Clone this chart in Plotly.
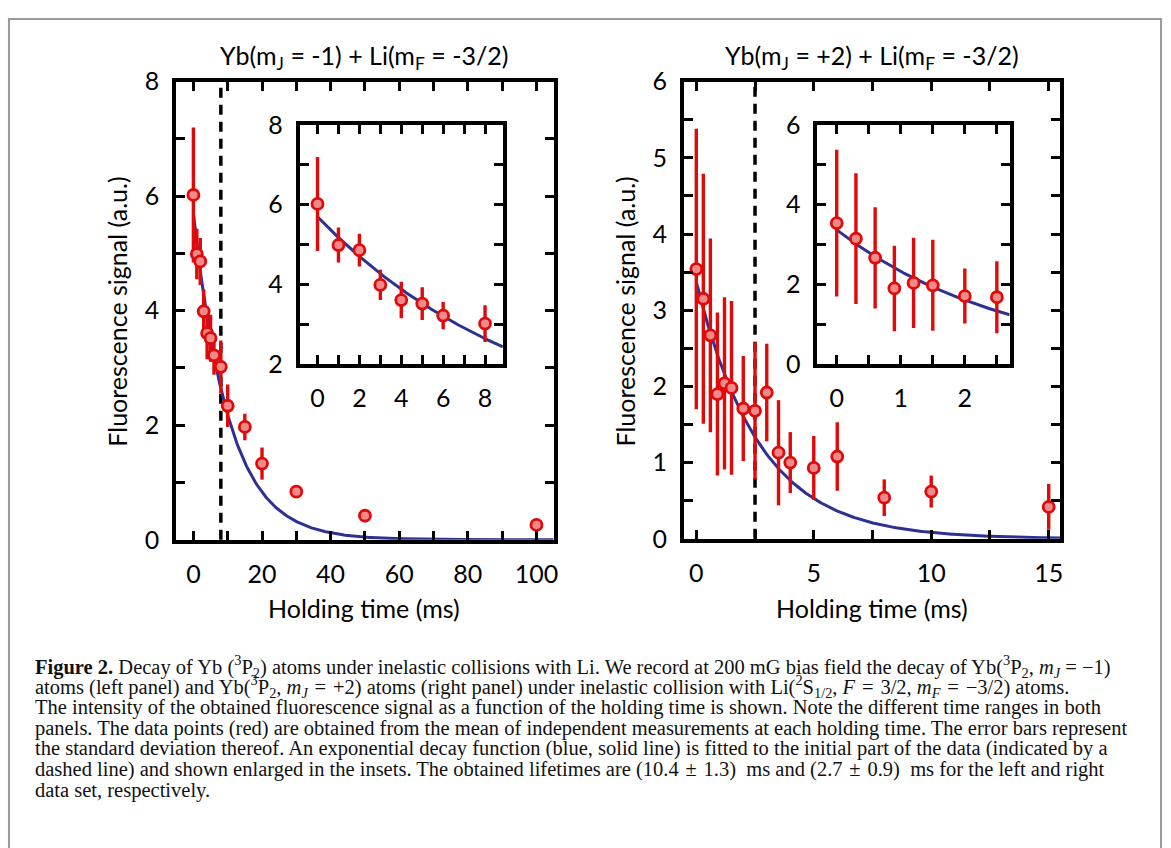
import numpy as np
import plotly.graph_objects as go

# left panel: Yb(mJ = -1) + Li(mF = -3/2)
left_t = [0, 1, 2, 3, 4, 5, 6, 8, 10, 15, 20, 30, 50, 100]
left_signal = [6.02, 4.99, 4.86, 3.99, 3.61, 3.52, 3.22, 3.02, 2.34, 1.97, 1.33, 0.84, 0.42, 0.26]
left_err = [1.18, 0.44, 0.41, 0.38, 0.46, 0.41, 0.34, 0.46, 0.37, 0.23, 0.28, 0.05, 0.04, 0.08]
left_fit_amp = 5.70
left_tau = 10.4   # ms
left_cutoff = 8

# right panel: Yb(mJ = +2) + Li(mF = -3/2)
right_t = [0, 0.3, 0.6, 0.9, 1.2, 1.5, 2.0, 2.5, 3.0, 3.5, 4.0, 5.0, 6.0, 8.0, 10.0, 15.0]
right_signal = [3.54, 3.15, 2.67, 1.90, 2.04, 1.98, 1.71, 1.68, 1.92, 1.13, 1.00, 0.93, 1.08, 0.54, 0.62, 0.42]
right_err = [1.84, 1.64, 1.27, 1.07, 1.13, 1.14, 0.69, 0.90, 0.64, 0.69, 0.40, 0.42, 0.45, 0.24, 0.21, 0.30]
right_fit_amp = 3.37
right_tau = 2.7   # ms
right_cutoff = 2.5

EQ = "\u2004=\u2004"   # math-style spacing
PM = "\u2004±\u2004"
caption_lines = [
    "<b>Figure 2.</b> Decay of Yb (<sup>3</sup>P<sub>2</sub>) atoms under inelastic collisions with Li. We record at 200 mG bias field the decay of Yb(<sup>3</sup>P<sub>2</sub>, <i>m<sub>J</sub></i> = −1)",
    f"atoms (left panel) and Yb(<sup>3</sup>P<sub>2</sub>, <i>m<sub>J</sub></i>{EQ}+2) atoms (right panel) under inelastic collision with Li(<sup>2</sup>S<sub>1/2</sub>, <i>F</i>{EQ}3/2, <i>m<sub>F</sub></i>{EQ}−3/2) atoms.",
    "The intensity of the obtained fluorescence signal as a function of the holding time is shown. Note the different time ranges in both",
    "panels. The data points (red) are obtained from the mean of independent measurements at each holding time. The error bars represent",
    "the standard deviation thereof. An exponential decay function (blue, solid line) is fitted to the initial part of the data (indicated by a",
    f"dashed line) and shown enlarged in the insets. The obtained lifetimes are (10.4{PM}1.3)  ms and (2.7{PM}0.9)  ms for the left and right",
    "data set, respectively.",
]

W, H = 1171, 848
SANS = "Lato, 'Open Sans', sans-serif"
SERIF = "'Liberation Serif', 'DejaVu Serif', serif"
RED = "#e00a0a"
PINK = "#f08a8a"
BLUE = "#2e3192"


def px_x(a, b):
    return [a / W, b / W]


def px_y(top, bottom):
    return [1 - bottom / H, 1 - top / H]


def axis(domain, rng, dtick, minor, standoff=10):
    return dict(
        domain=domain, range=rng, dtick=dtick, tick0=0,
        showline=True, linecolor="black", linewidth=4, mirror="ticks",
        ticks="inside", ticklen=9, tickwidth=3, tickcolor="black",
        minor=dict(dtick=minor, ticks="inside", ticklen=9, tickwidth=3, tickcolor="black"),
        showgrid=False, zeroline=False,
        tickfont=dict(family=SANS, size=25, color="black"),
        ticklabelstandoff=standoff,
    )


def add_panel(fig, t, sig, err, amp, tau, t_max, xa, ya):
    tt = np.linspace(0, t_max, 300)
    fig.add_trace(go.Scatter(
        x=tt, y=amp * np.exp(-tt / tau), mode="lines",
        line=dict(color=BLUE, width=3), xaxis=xa, yaxis=ya, showlegend=False,
        hoverinfo="skip",
    ))
    fig.add_trace(go.Scatter(
        x=t, y=sig, mode="markers", xaxis=xa, yaxis=ya, showlegend=False,
        marker=dict(size=11, color=PINK, line=dict(color=RED, width=2.8)),
        error_y=dict(type="data", array=err, color=RED, thickness=3.4, width=0),
    ))


fig = go.Figure()

# main panels
add_panel(fig, left_t, left_signal, left_err, left_fit_amp, left_tau, 105, "x", "y")
add_panel(fig, right_t, right_signal, right_err, right_fit_amp, right_tau, 15.5, "x3", "y3")

# insets: only the fitted part of the data
li = [i for i, v in enumerate(left_t) if v <= left_cutoff]
ri = [i for i, v in enumerate(right_t) if v <= right_cutoff]
add_panel(fig, [left_t[i] for i in li], [left_signal[i] for i in li], [left_err[i] for i in li],
          left_fit_amp, left_tau, 8.85, "x2", "y2")
add_panel(fig, [right_t[i] for i in ri], [right_signal[i] for i in ri], [right_err[i] for i in ri],
          right_fit_amp, right_tau, 2.7, "x4", "y4")

annotations = [
    dict(text="Yb(m<sub>J</sub> = -1) + Li(m<sub>F</sub> = -3/2)", x=366 / W, y=1 - 43 / H),
    dict(text="Yb(m<sub>J</sub> = +2) + Li(m<sub>F</sub> = -3/2)", x=876 / W, y=1 - 43 / H),
    dict(text="Holding time (ms)", x=366 / W, y=1 - 614 / H),
    dict(text="Holding time (ms)", x=876 / W, y=1 - 614 / H),
    dict(text="Fluorescence signal (a.u.)", x=118 / W, y=1 - 306 / H, textangle=-90),
    dict(text="Fluorescence signal (a.u.)", x=628 / W, y=1 - 306 / H, textangle=-90),
]
for a in annotations:
    a.update(xref="paper", yref="paper", showarrow=False, xanchor="center", yanchor="middle",
             font=dict(family=SANS, size=25, color="black"))

for i, line in enumerate(caption_lines):
    annotations.append(dict(
        text=line, x=33 / W, y=1 - (674 + 21.4 * i) / H, xref="paper", yref="paper",
        showarrow=False, xanchor="left", yanchor="middle", align="left",
        font=dict(family=SERIF, size=20.5, color="#111111"),
    ))

shapes = [
    # dashed lines marking the end of the fitted range
    dict(type="line", xref="x", yref="y domain", x0=left_cutoff, x1=left_cutoff, y0=0, y1=1,
         line=dict(color="black", width=3.5, dash="10px,7px"), layer="below"),
    dict(type="line", xref="x3", yref="y3 domain", x0=right_cutoff, x1=right_cutoff, y0=0, y1=1,
         line=dict(color="black", width=3.5, dash="10px,7px"), layer="below"),
    # page frame
    dict(type="rect", xref="paper", yref="paper", x0=9 / W, x1=1166 / W, y0=-0.05, y1=1 - 3 / H,
         line=dict(color="#9a9a9a", width=2)),
]

fig.update_layout(
    width=W, height=H,
    margin=dict(l=0, r=0, t=0, b=0),
    paper_bgcolor="white", plot_bgcolor="white",
    showlegend=False,
    xaxis=dict(axis(px_x(177, 556), [-5, 105], 20, 10, standoff=9), anchor="y"),
    yaxis=dict(axis(px_y(68, 543), [0, 8], 2, 1, standoff=8), anchor="x"),
    xaxis2=dict(axis(px_x(301, 505), [-0.85, 8.85], 2, 1, standoff=9), anchor="y2"),
    yaxis2=dict(axis(px_y(113, 361), [2, 8], 2, 1, standoff=8), anchor="x2"),
    xaxis3=dict(axis(px_x(687, 1065), [-0.52, 15.5], 5, 2.5, standoff=9), anchor="y3"),
    yaxis3=dict(axis(px_y(68, 542), [0, 6], 1, 0.5, standoff=8), anchor="x3"),
    xaxis4=dict(axis(px_x(821, 1014), [-0.3, 2.7], 1, 0.5, standoff=9), anchor="y4"),
    yaxis4=dict(axis(px_y(113, 361), [0, 6], 2, 1, standoff=8), anchor="x4"),
    annotations=annotations,
    shapes=shapes,
)

fig.write_html(
    "out.html",
    config={"displayModeBar": False},
    post_script="document.body.style.margin='0';document.body.style.overflow='hidden';",
)
